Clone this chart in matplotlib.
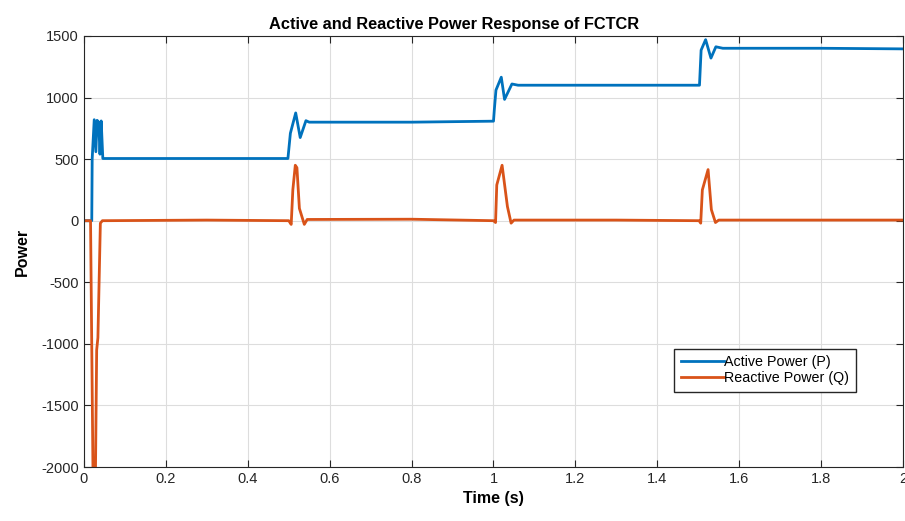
import numpy as np
import matplotlib.pyplot as plt
from matplotlib.ticker import FormatStrFormatter

# breakpoints
t_p = [0.0, 0.019, 0.020, 0.025, 0.029, 0.032, 0.036, 0.039, 0.042, 0.046,
       0.30, 0.498, 0.504, 0.517, 0.528, 0.542, 0.55, 0.80, 1.00,
       1.002, 1.006, 1.019, 1.027, 1.045, 1.06, 1.30, 1.503, 1.507,
       1.518, 1.531, 1.543, 1.56, 1.80, 2.0]
p_vals = [0, 0, 500, 820, 560, 815, 800, 540, 810, 505,
          505, 505, 710, 875, 675, 812, 800, 800, 808,
          900, 1060, 1165, 985, 1110, 1100, 1100, 1100, 1385,
          1470, 1320, 1412, 1400, 1400, 1395]

t_q = [0.0, 0.016, 0.022, 0.028, 0.031, 0.034, 0.040, 0.045,
       0.30, 0.500, 0.506, 0.510, 0.516, 0.520, 0.526, 0.538, 0.545,
       0.80, 1.000, 1.005, 1.008, 1.021, 1.034, 1.043, 1.050,
       1.30, 1.502, 1.506, 1.510, 1.524, 1.532, 1.542, 1.550, 2.0]
q_vals = [0, 0, -2050, -2050, -1050, -950, -20, 0,
          5, 0, -30, 250, 450, 430, 100, -30, 10,
          12, 0, -15, 290, 450, 115, -20, 5,
          5, 0, -20, 250, 415, 90, -15, 5, 5]

x_ticks = [0, 0.2, 0.4, 0.6, 0.8, 1.0, 1.2, 1.4, 1.6, 1.8, 2.0]
y_ticks = [-2000, -1500, -1000, -500, 0, 500, 1000, 1500]


def main():
    plt.rcParams['font.family'] = ['Liberation Sans', 'DejaVu Sans']
    plt.rcParams['axes.unicode_minus'] = False

    fig = plt.figure(figsize=(9.05, 5.21), dpi=100)
    ax = fig.add_axes([0.0928, 0.1036, 0.905, 0.8274])

    ax.plot(t_p, p_vals, color='#0072BD', lw=2, label='Active Power (P)')
    ax.plot(t_q, q_vals, color='#D95319', lw=2, label='Reactive Power (Q)')

    ax.set_xlim(0, 2)
    ax.set_ylim(-2000, 1500)
    ax.set_xticks(x_ticks)
    ax.set_yticks(y_ticks)
    ax.xaxis.set_major_formatter(FormatStrFormatter('%g'))
    ax.grid(True, color='#dddddd', lw=0.8)
    ax.set_axisbelow(True)
    ax.tick_params(direction='in', top=True, right=True, labelsize=10.5,
                   colors='#262626', length=5)
    for s in ax.spines.values():
        s.set_color('#262626')

    ax.set_xlabel('Time (s)', fontsize=11.5, fontweight='bold', labelpad=4)
    ax.set_ylabel('Power', fontsize=11.5, fontweight='bold', labelpad=8)
    ax.set_title('Active and Reactive Power Response of FCTCR', fontsize=11.8,
                 fontweight='bold', x=0.452, pad=5)

    leg = ax.legend(loc='lower left', bbox_to_anchor=(0.712, 0.158),
                    fontsize=10.3, fancybox=False, framealpha=1,
                    edgecolor='#262626', borderpad=0.45, handlelength=3.0,
                    handletextpad=0.05, labelspacing=0.15)
    leg.get_frame().set_linewidth(1.0)

    fig.savefig('out.png', dpi=100)


if __name__ == "__main__":
    main()
